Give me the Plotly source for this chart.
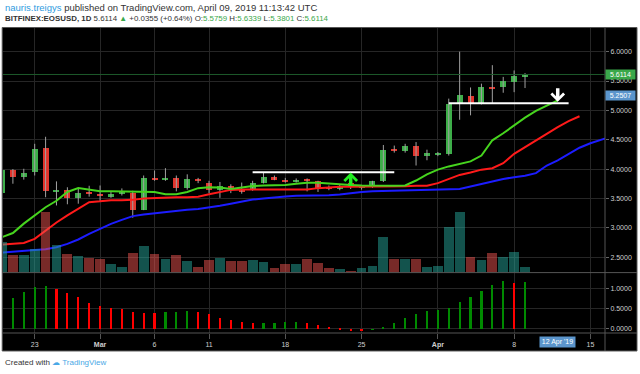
import pandas as pd
import plotly.graph_objects as go

# ---------------- data ----------------
dates = pd.date_range("2019-02-20", "2019-04-09", freq="D")

opens = [3.59, 3.99, 3.87, 3.95, 4.36, 3.62, 3.635, 3.51, 3.60,
         3.57, 3.53, 3.57, 3.60, 3.31, 3.85, 3.83, 3.85, 3.67, 3.83, 3.77, 3.65, 3.71, 3.64, 3.65, 3.76,
         3.87, 3.82, 3.79, 3.82, 3.79, 3.69, 3.66, 3.76, 3.69, 3.69, 3.79, 4.33, 4.31, 4.39, 4.23,
         4.255, 4.25, 5.12, 5.25, 5.12, 5.39, 5.39, 5.48, 5.5759]
highs = [4.03, 4.00, 4.005, 4.43, 4.55, 3.79, 3.69, 3.67, 3.715,
         3.72, 3.62, 3.67, 3.63, 3.89, 3.975, 4.015, 3.89, 3.91, 3.85, 3.80, 3.78, 3.74, 3.77, 3.80, 3.94,
         3.89, 3.85, 3.84, 3.84, 3.80, 3.72, 3.73, 3.78, 3.73, 3.80, 4.41, 4.40, 4.43, 4.46, 4.33,
         4.29, 5.20, 6.00, 5.39, 5.455, 5.77, 5.57, 5.68, 5.6339]
lows = [3.56, 3.75, 3.82, 3.89, 3.52, 3.38, 3.40, 3.41, 3.53,
        3.44, 3.51, 3.55, 3.17, 3.30, 3.80, 3.80, 3.62, 3.65, 3.76, 3.59, 3.51, 3.59, 3.58, 3.63, 3.755,
        3.81, 3.77, 3.77, 3.62, 3.61, 3.64, 3.64, 3.66, 3.65, 3.68, 3.78, 4.28, 4.28, 4.06, 4.15,
        4.22, 4.23, 4.84, 4.915, 5.10, 5.12, 5.30, 5.31, 5.3801]
closes = [3.99, 3.87, 3.94, 4.35, 3.62, 3.64, 3.51, 3.59, 3.58,
          3.55, 3.57, 3.61, 3.31, 3.845, 3.83, 3.84, 3.67, 3.835, 3.79, 3.65, 3.71, 3.655, 3.63, 3.77, 3.87,
          3.82, 3.79, 3.82, 3.80, 3.67, 3.67, 3.70, 3.69, 3.695, 3.79, 4.33, 4.31, 4.39, 4.22, 4.27,
          4.265, 5.10, 5.26, 5.12, 5.40, 5.38, 5.50, 5.585, 5.6114]
volumes_m = [15.4, 9.0, 9.0, 11.9, 30.4, 13.9, 9.5, 8.5, 7.5,
             6.9, 4.2, 2.9, 9.9, 13.5, 9.4, 7.0, 8.7, 5.7, 2.9, 6.5, 7.5, 5.9, 5.9, 6.2, 5.5,
             2.2, 4.2, 4.5, 6.9, 4.9, 2.5, 1.9, 1.0, 2.5, 3.5, 18.0, 7.0, 7.0, 6.9, 2.9,
             3.4, 22.7, 30.2, 7.7, 6.5, 10.0, 7.7, 10.5, 2.9]
hist_vals = [None, 0.78, 0.94, 1.06, 1.08, 1.00, 0.90, 0.80, 0.66,
             0.57, 0.53, 0.495, 0.44, 0.40, 0.395, 0.43, 0.43, 0.445, 0.44, 0.39, 0.29, 0.24, 0.185, 0.16,
             0.16, 0.16, 0.18, 0.18, 0.16, 0.105, 0.05, 0.02, -0.035, -0.04, -0.01, 0.065, 0.16, 0.285,
             0.39, 0.46,
             0.49, 0.53, 0.67, 0.80, 0.96, 1.11, 1.20, 1.16, 1.185]

# Alligator lines (shifted into the future)
lips_green = [2.84, 2.91, 3.07, 3.21, 3.35, 3.46, 3.61, 3.675, 3.65,
              3.62, 3.62, 3.62, 3.62, 3.62, 3.61, 3.57, 3.57, 3.61, 3.675, 3.69, 3.685, 3.66, 3.69, 3.71,
              3.72, 3.72, 3.73, 3.75, 3.765, 3.765, 3.75, 3.74, 3.73, 3.72, 3.715, 3.715, 3.715, 3.72,
              3.805, 3.91,
              3.99, 4.045, 4.09, 4.13, 4.23, 4.49, 4.61, 4.745, 4.875, 4.99, 5.085, 5.17]
teeth_red = [2.715, 2.725, 2.74, 2.81, 2.95, 3.09, 3.21, 3.32, 3.435,
             3.45, 3.47, 3.47, 3.475, 3.50, 3.51, 3.52, 3.52, 3.52, 3.53, 3.57, 3.61, 3.645, 3.65, 3.65,
             3.66, 3.66, 3.65, 3.65, 3.65, 3.675, 3.69, 3.70, 3.70, 3.70, 3.70, 3.70, 3.70, 3.705,
             3.715, 3.715,
             3.76, 3.835, 3.90, 3.94, 3.99, 4.015, 4.10, 4.26, 4.375, 4.49, 4.61, 4.715, 4.815, 4.90]
jaw_blue = [2.575, 2.594, 2.61, 2.62, 2.633, 2.667, 2.725, 2.80, 2.896,
            2.98, 3.067, 3.135, 3.198, 3.225, 3.247, 3.265, 3.28, 3.305, 3.32, 3.345, 3.374, 3.408,
            3.447, 3.48, 3.50, 3.51, 3.532, 3.544, 3.545, 3.55, 3.555, 3.567, 3.589, 3.61, 3.62, 3.625,
            3.635, 3.64, 3.642, 3.645,
            3.645, 3.657, 3.66, 3.703, 3.749, 3.795, 3.83, 3.862, 3.885, 3.93, 4.06, 4.147, 4.26,
            4.363, 4.44, 4.50, 4.56]

lips_dates = pd.date_range("2019-02-20", periods=len(lips_green), freq="D")
teeth_dates = pd.date_range("2019-02-20", periods=len(teeth_red), freq="D")
jaw_dates = pd.date_range("2019-02-20", periods=len(jaw_blue), freq="D")

x_tick_dates = ["2019-02-23", "2019-03-01", "2019-03-06", "2019-03-11", "2019-03-18",
                "2019-03-25", "2019-04-01", "2019-04-08", "2019-04-15"]
x_tick_text = ["23", "<b>Mar</b>", "6", "11", "18", "25", "<b>Apr</b>", "8", "15"]
price_ticks = [2.5, 3.0, 3.5, 4.0, 4.5, 5.0, 5.5, 6.0]
hist_ticks = [0.0, 0.5, 1.0]

last_price = 5.6114
marker_price = 5.2507
level_low = 3.945
level_low_span = ("2019-03-15", "2019-03-28")
level_high = 5.12
level_high_span = ("2019-04-02", "2019-04-13")
crosshair_date = "2019-04-12"

# ---------------- geometry helpers ----------------
W, H = 640, 374
PL, PR, PT, PB = 3.3, 605.5, 28.0, 333.5
SPLIT = 273.0


def fx(px):
    return (px - PL) / (PR - PL)


def fy(py):
    return (PB - py) / (PB - PT)


DAY_PX = 10.9
day_ms = 86400000
x0 = pd.Timestamp("2019-02-23") - pd.Timedelta(days=(35 - PL) / DAY_PX)
x1 = x0 + pd.Timedelta(days=(PR - PL) / DAY_PX)

UP, DOWN = "#3dae49", "#e2352d"
WICK = "#a0a0a0"

# ---------------- traces ----------------
fig = go.Figure()

# wicks
wx, wy = [], []
for d, h, l in zip(dates, highs, lows):
    wx += [d, d, None]
    wy += [l, h, None]
fig.add_trace(go.Scatter(x=wx, y=wy, mode="lines", line=dict(color=WICK, width=1),
                         hoverinfo="skip", showlegend=False, xaxis="x", yaxis="y"))

# bodies
min_body = 0.025
body_base, body_h, body_col = [], [], []
for o, c in zip(opens, closes):
    lo, hi = min(o, c), max(o, c)
    if hi - lo < min_body:
        mid = (hi + lo) / 2
        lo, hi = mid - min_body / 2, mid + min_body / 2
    body_base.append(lo)
    body_h.append(hi - lo)
    body_col.append(UP if c >= o else DOWN)
fig.add_trace(go.Bar(x=dates, y=body_h, base=body_base, width=0.55 * day_ms,
                     marker=dict(color=body_col, line=dict(width=0)),
                     showlegend=False, xaxis="x", yaxis="y"))

# alligator lines
fig.add_trace(go.Scatter(x=jaw_dates, y=jaw_blue, mode="lines", line=dict(color="#1c1cff", width=2),
                         showlegend=False, xaxis="x", yaxis="y"))
fig.add_trace(go.Scatter(x=teeth_dates, y=teeth_red, mode="lines", line=dict(color="#ff1a1a", width=2),
                         showlegend=False, xaxis="x", yaxis="y"))
fig.add_trace(go.Scatter(x=lips_dates, y=lips_green, mode="lines", line=dict(color="#46d41e", width=2),
                         showlegend=False, xaxis="x", yaxis="y"))

# volume (overlay axis)
vol_col = ["rgba(38,166,154,0.5)" if c >= o else "rgba(239,83,80,0.5)" for o, c in zip(opens, closes)]
fig.add_trace(go.Bar(x=dates, y=volumes_m, width=0.9 * day_ms,
                     marker=dict(color=vol_col, line=dict(width=0)),
                     showlegend=False, xaxis="x", yaxis="y3"))

# histogram pane
hist_col = []
prev = None
for v in hist_vals:
    if v is None:
        hist_col.append("#008000")
    elif prev is None or v >= prev:
        hist_col.append("#008a00")
    else:
        hist_col.append("#ff0000")
    if v is not None:
        prev = v
fig.add_trace(go.Bar(x=dates, y=hist_vals, width=0.2 * day_ms,
                     marker=dict(color=hist_col, line=dict(width=0)),
                     showlegend=False, xaxis="x2", yaxis="y2"))

# ---------------- layout ----------------
grid = "#262626"
tickfont = dict(family="Liberation Sans, Arial, sans-serif", size=7, color="#cfcfcf")
split_frac = fy(SPLIT)

fig.update_layout(
    width=W, height=H,
    margin=dict(l=PL, r=W - PR, t=PT, b=H - PB, autoexpand=False),
    paper_bgcolor="white", plot_bgcolor="black",
    barmode="overlay", bargap=0,
    showlegend=False,
    xaxis=dict(domain=[0, 1], anchor="y", range=[x0, x1], type="date",
               tickvals=x_tick_dates, showticklabels=False, showgrid=True, gridcolor=grid,
               gridwidth=1, zeroline=False, showline=False, ticks=""),
    xaxis2=dict(domain=[0, 1], anchor="y2", matches="x", type="date",
                tickvals=x_tick_dates, ticktext=x_tick_text, showgrid=True, gridcolor=grid,
                ticks="outside", ticklen=5, tickcolor="#555", tickfont=tickfont,
                zeroline=False, showline=False),
    yaxis=dict(domain=[split_frac, 1], anchor="x", side="right", range=[2.236, 6.403],
               tickvals=price_ticks, tickformat=".4f", showgrid=True, gridcolor=grid,
               ticks="outside", ticklen=3, tickcolor="#666", tickfont=tickfont, zeroline=False),
    yaxis3=dict(overlaying="y", anchor="x", range=[0, (SPLIT - PT) / 2.0], visible=False,
                showgrid=False),
    yaxis2=dict(domain=[0, split_frac], anchor="x2", side="right", range=[-0.105, 1.4075],
                tickvals=hist_ticks, tickformat=".4f", showgrid=True, gridcolor=grid,
                ticks="outside", ticklen=3, tickcolor="#666", tickfont=tickfont, zeroline=False),
)

shapes = [
    # chart box background
    dict(type="rect", xref="paper", yref="paper", x0=fx(2.5), x1=fx(637.5), y0=fy(351.5), y1=fy(27.5),
         fillcolor="black", line=dict(color="#555", width=1), layer="below"),
    # right axis separator
    dict(type="line", xref="paper", yref="paper", x0=1, x1=1, y0=fy(351.5), y1=fy(27.5),
         line=dict(color="#555", width=1)),
    # pane separator
    dict(type="line", xref="paper", yref="paper", x0=fx(2.5), x1=fx(637.5), y0=split_frac, y1=split_frac,
         line=dict(color="#555", width=1)),
    # time axis line
    dict(type="line", xref="paper", yref="paper", x0=fx(2.5), x1=fx(637.5), y0=0, y1=0,
         line=dict(color="#555", width=1)),
    # last price line
    dict(type="line", xref="paper", yref="y", x0=0, x1=1, y0=last_price, y1=last_price,
         line=dict(color="#1d5a2b", width=1)),
    # drawn levels
    dict(type="line", xref="x", yref="y", x0=level_low_span[0], x1=level_low_span[1],
         y0=level_low, y1=level_low, line=dict(color="white", width=2)),
    dict(type="line", xref="x", yref="y", x0=level_high_span[0], x1=level_high_span[1],
         y0=level_high, y1=level_high, line=dict(color="white", width=2)),
]
fig.update_layout(shapes=shapes)

hdr_font = "Liberation Sans, Arial, sans-serif"
G = "#3aa84a"
ann = [
    dict(xref="paper", yref="paper", x=fx(3), y=fy(7), xanchor="left", yanchor="middle",
         showarrow=False,
         text="<span style='color:#2f9be0'>nauris.treigys</span> published on TradingView.com, April 09, 2019 11:13:42 UTC",
         font=dict(family=hdr_font, size=9.5, color="#333")),
    dict(xref="paper", yref="paper", x=fx(3), y=fy(18.5), xanchor="left", yanchor="middle",
         showarrow=False,
         text=("<b>BITFINEX:EOSUSD, 1D</b> 5.6114 <span style='color:%s'>▲</span> +0.0355 (+0.64%%) "
               "O:<span style='color:%s'>5.5759</span> H:<span style='color:%s'>5.6339</span> "
               "L:<span style='color:%s'>5.3801</span> C:<span style='color:%s'>5.6114</span>") % (G, G, G, G, G),
         font=dict(family=hdr_font, size=7.9, color="#333")),
    dict(xref="paper", yref="paper", x=fx(3), y=fy(363), xanchor="left", yanchor="middle",
         showarrow=False,
         text="Created with <span style='color:#4aa8e6'>☁ TradingView</span>",
         font=dict(family=hdr_font, size=8, color="#333")),
    # price labels
    dict(xref="paper", yref="y", x=1, y=last_price, xanchor="left", yanchor="middle", showarrow=False,
         text="5.6114", bgcolor="#3aa84a", width=29, height=9, borderpad=0,
         font=dict(family=hdr_font, size=7, color="white")),
    dict(xref="paper", yref="y", x=1, y=marker_price, xanchor="left", yanchor="middle", showarrow=False,
         text="5.2507", bgcolor="#5b95cc", width=29, height=9, borderpad=0,
         font=dict(family=hdr_font, size=7, color="white")),
    # crosshair date
    dict(xref="x2", yref="paper", x=crosshair_date, y=fy(343), xanchor="center", yanchor="middle",
         showarrow=False, text="12 Apr '19", bgcolor="#5b95cc", width=35, height=10, borderpad=0,
         font=dict(family=hdr_font, size=7, color="white")),
    # arrows
    dict(xref="x", yref="y", x="2019-03-24", y=3.94, ax=0, ay=15, showarrow=True,
         arrowhead=4, arrowsize=0.7, arrowwidth=3.5, arrowcolor="#22ee22", text=""),
    dict(xref="x", yref="y", x=crosshair_date, y=5.145, ax=0, ay=-15, showarrow=True,
         arrowhead=4, arrowsize=0.7, arrowwidth=3.5, arrowcolor="white", text=""),
]
fig.update_layout(annotations=ann)

fig.write_html(
    "out.html",
    config={"displayModeBar": False},
    post_script="document.body.style.margin='0';document.body.style.padding='0';"
                "document.documentElement.style.overflow='hidden';",
)
